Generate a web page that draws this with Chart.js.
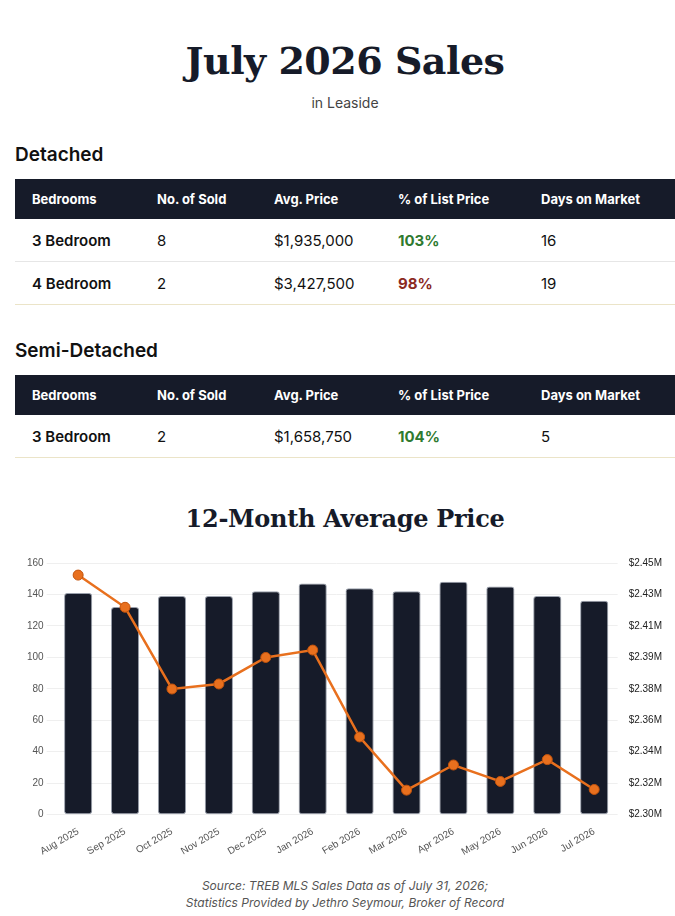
<!DOCTYPE html>
<html>
<head>
<meta charset="utf-8">
<script src="https://cdn.jsdelivr.net/npm/chart.js@4.4.1/dist/chart.umd.min.js"></script>
<style>
  body { margin: 0; padding: 0 0 0 15px; background: #fff; font-family: Inter, "Noto Sans", sans-serif; color: #111; width: 660px; }
  h1 { font-family: "DejaVu Serif", serif; font-weight: bold; font-size: 38px; text-align: center; color: #161b29; margin: 0; padding-top: 37px; line-height: 48px; letter-spacing: -0.5px; }
  .sub { text-align: center; font-size: 14px; color: #444; margin-top: 9px; line-height: 18px; }
  h2 { font-size: 19px; font-weight: 600; margin: 0; line-height: 24px; color: #111; }
  table { border-collapse: collapse; width: 660px; table-layout: fixed; }
  th { background: #161b29; color: #fff; font-size: 13px; font-weight: 700; text-align: left; height: 40px; padding: 0 0 0 17px; }
  td { font-size: 15px; height: 42px; padding: 0 0 0 17px; border-bottom: 1px solid #e6e6e6; }
  tr:last-child td { border-bottom-color: #ebe4c8; }
  td.b { font-weight: 600; }
  .up { color: #2f7a30; font-weight: 700; }
  .down { color: #8b2a1f; font-weight: 700; }
  h3 { font-family: "DejaVu Serif", serif; font-weight: bold; font-size: 24px; text-align: center; color: #161b29; margin: 0; line-height: 30px; letter-spacing: -0.3px; }
  .foot { text-align: center; font-style: italic; font-size: 12px; color: #555; line-height: 17px; }
</style>
</head>
<body>
<h1>July 2026 Sales</h1>
<div class="sub">in Leaside</div>

<h2 style="margin-top:31px">Detached</h2>
<table style="margin-top:12px">
  <colgroup><col style="width:125px"><col style="width:117px"><col style="width:124px"><col style="width:143px"><col style="width:151px"></colgroup>
  <tr><th>Bedrooms</th><th>No. of Sold</th><th>Avg. Price</th><th>% of List Price</th><th>Days on Market</th></tr>
  <tr><td class="b">3 Bedroom</td><td>8</td><td>$1,935,000</td><td class="up">103%</td><td>16</td></tr>
  <tr><td class="b">4 Bedroom</td><td>2</td><td>$3,427,500</td><td class="down">98%</td><td>19</td></tr>
</table>

<h2 style="margin-top:34px">Semi-Detached</h2>
<table style="margin-top:12px">
  <colgroup><col style="width:125px"><col style="width:117px"><col style="width:124px"><col style="width:143px"><col style="width:151px"></colgroup>
  <tr><th>Bedrooms</th><th>No. of Sold</th><th>Avg. Price</th><th>% of List Price</th><th>Days on Market</th></tr>
  <tr><td class="b">3 Bedroom</td><td>2</td><td>$1,658,750</td><td class="up">104%</td><td>5</td></tr>
</table>

<h3 style="margin-top:46px">12-Month Average Price</h3>
<div style="position:relative; width:650px; height:307px; margin-top:20px;">
  <canvas id="priceChart"></canvas>
</div>
<div class="foot" style="margin-top:16px">Source: TREB MLS Sales Data as of July 31, 2026;<br>Statistics Provided by Jethro Seymour, Broker of Record</div>

<script>
const months = ["Aug 2025", "Sep 2025", "Oct 2025", "Nov 2025", "Dec 2025", "Jan 2026",
  "Feb 2026", "Mar 2026", "Apr 2026", "May 2026", "Jun 2026", "Jul 2026"];
const barValues = [141, 132, 139, 139, 142, 147, 144, 142, 148, 145, 139, 136];
const avgPrices = [2442800, 2423600, 2374900, 2377900, 2393700, 2398100,
  2346300, 2314600, 2329600, 2319800, 2332800, 2315000];
const leftTicks = [0, 160, 20];
const rightTicks = [2300000, 2450000, 18750];

Chart.defaults.font.family = '"Liberation Sans", Arial, sans-serif';
Chart.defaults.color = '#555';

new Chart(document.getElementById('priceChart'), {
  data: {
    labels: months,
    datasets: [{
      type: 'line',
      label: 'Avg. Price',
      data: avgPrices,
      yAxisID: 'y1',
      borderColor: '#e8701e',
      borderWidth: 2.5,
      pointBackgroundColor: '#e8701e',
      pointBorderColor: '#c2530c',
      pointBorderWidth: 1,
      pointRadius: 5,
      tension: 0,
      order: 0
    }, {
      type: 'bar',
      label: 'Sales',
      data: barValues,
      yAxisID: 'y',
      backgroundColor: '#161b29',
      borderColor: 'rgba(110,118,135,0.7)',
      borderWidth: 1,
      borderRadius: 3,
      borderSkipped: false,
      barPercentage: 0.75,
      categoryPercentage: 0.8,
      order: 1
    }]
  },
  options: {
    responsive: true,
    maintainAspectRatio: false,
    animation: false,
    layout: { padding: { left: 9 } },
    plugins: { legend: { display: false }, tooltip: { enabled: false } },
    scales: {
      x: {
        grid: { display: false },
        border: { display: false },
        ticks: { font: { size: 10 }, minRotation: 30, maxRotation: 30 }
      },
      y: {
        position: 'left',
        min: leftTicks[0], max: leftTicks[1],
        ticks: { stepSize: leftTicks[2], font: { size: 10 } },
        grid: { color: '#efefef' },
        border: { display: false }
      },
      y1: {
        position: 'right',
        min: rightTicks[0], max: rightTicks[1],
        ticks: {
          stepSize: rightTicks[2],
          font: { size: 10 },
          color: '#222',
          callback: v => '$' + (v / 1e6).toFixed(2) + 'M'
        },
        grid: { display: false },
        border: { display: false }
      }
    }
  }
});
</script>
</body>
</html>
